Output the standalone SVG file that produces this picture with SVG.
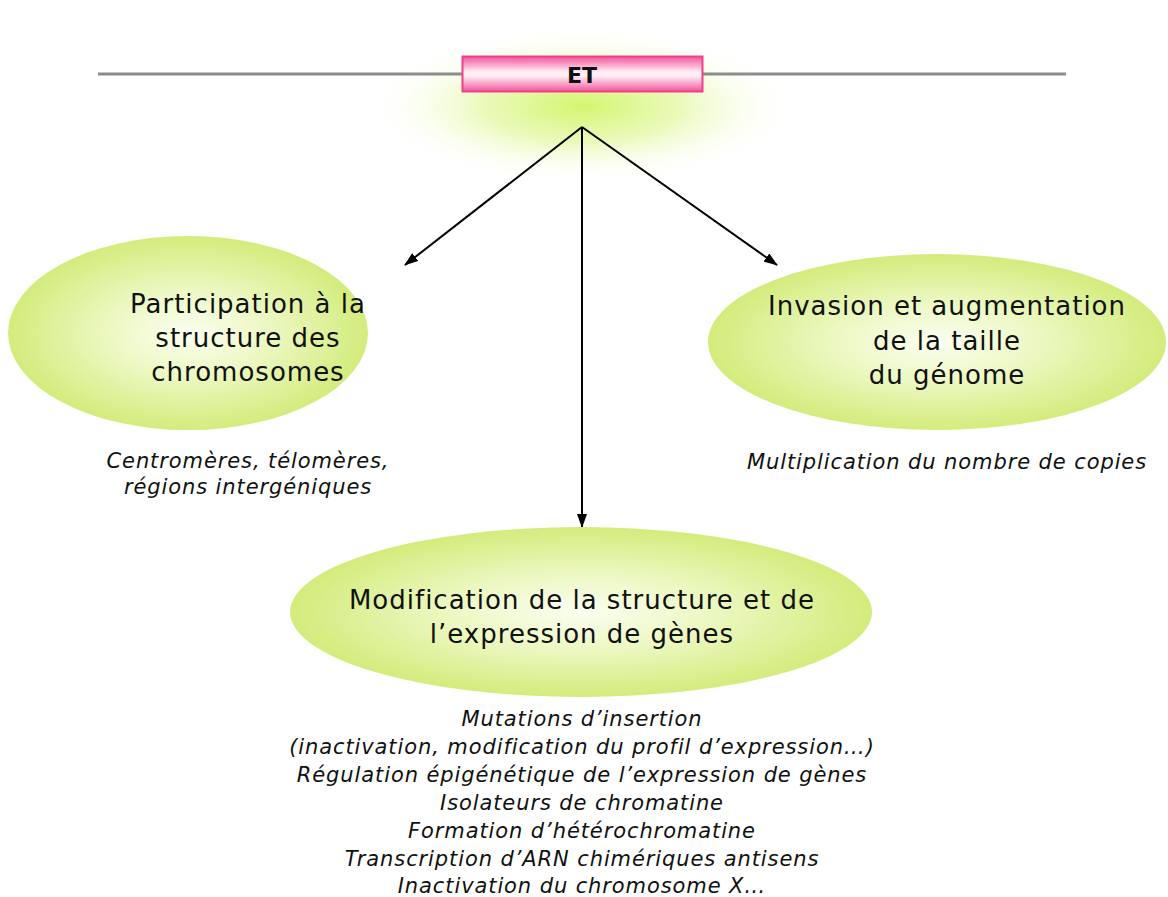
<svg xmlns="http://www.w3.org/2000/svg" width="1168" height="897" viewBox="0 0 1168 897">
  <defs>
    <radialGradient id="glow" cx="0.5" cy="0.5" r="0.5">
      <stop offset="0" stop-color="#d4f56e" stop-opacity="1"/>
      <stop offset="0.45" stop-color="#e2f8a0" stop-opacity="0.75"/>
      <stop offset="1" stop-color="#ffffff" stop-opacity="0"/>
    </radialGradient>
    <linearGradient id="pinkbar" x1="0" y1="0" x2="0" y2="1">
      <stop offset="0" stop-color="#f2559a"/>
      <stop offset="0.45" stop-color="#fff0f6"/>
      <stop offset="0.55" stop-color="#fff0f6"/>
      <stop offset="1" stop-color="#f2559a"/>
    </linearGradient>
    <radialGradient id="oval" cx="0.5" cy="0.5" r="0.5">
      <stop offset="0" stop-color="#fbfef0"/>
      <stop offset="0.45" stop-color="#ecf8c2"/>
      <stop offset="1" stop-color="#d3ec7c"/>
    </radialGradient>
    <marker id="arrow" viewBox="0 0 14 10" refX="13" refY="5" markerWidth="14" markerHeight="10" markerUnits="userSpaceOnUse" orient="auto">
      <path d="M0,0 L14,5 L0,10 z" fill="#000"/>
    </marker>
    <style>
      .title { font-family: "DejaVu Sans", Verdana, sans-serif; font-size: 26px; letter-spacing: 1px; fill: #111; text-anchor: middle; }
      .note { font-family: "DejaVu Sans", Verdana, sans-serif; font-size: 21px; letter-spacing: 0.9px; font-style: italic; fill: #111; text-anchor: middle; }
      .link { stroke: #000; stroke-width: 2; fill: none; marker-end: url(#arrow); }
    </style>
  </defs>

  <rect width="1168" height="897" fill="#ffffff"/>

  <!-- glow beneath the element -->
  <ellipse cx="582" cy="106" rx="215" ry="78" fill="url(#glow)"/>

  <!-- chromosome line and transposable element -->
  <g id="et">
    <line x1="98" y1="74" x2="1066" y2="74" stroke="#8c8c8c" stroke-width="3"/>
    <rect x="462.5" y="56.5" width="240" height="35" fill="url(#pinkbar)" stroke="#f0408a" stroke-width="2"/>
    <text x="582" y="83" font-family="DejaVu Sans, Verdana, sans-serif" font-size="22" font-weight="bold" text-anchor="middle" fill="#111">ET</text>
  </g>

  <!-- connectors -->
  <g id="connectors">
    <line class="link" x1="582" y1="127" x2="405" y2="265"/>
    <line class="link" x1="582" y1="127" x2="777" y2="265"/>
    <line class="link" x1="582" y1="127" x2="582" y2="527"/>
  </g>

  <g id="structure">
    <ellipse cx="188" cy="333" rx="180" ry="97" fill="url(#oval)"/>
    <text class="title" x="248" y="313">Participation à la</text>
    <text class="title" x="248" y="347">structure des</text>
    <text class="title" x="248" y="381">chromosomes</text>
    <text class="note" x="248" y="468">Centromères, télomères,</text>
    <text class="note" x="248" y="494">régions intergéniques</text>
  </g>

  <g id="invasion">
    <ellipse cx="937" cy="342" rx="229" ry="88" fill="url(#oval)"/>
    <text class="title" x="947" y="315">Invasion et augmentation</text>
    <text class="title" x="947" y="350">de la taille</text>
    <text class="title" x="947" y="384">du génome</text>
    <text class="note" x="947" y="469">Multiplication du nombre de copies</text>
  </g>

  <g id="modification">
    <ellipse cx="581" cy="612" rx="291" ry="85" fill="url(#oval)"/>
    <text class="title" x="582" y="609">Modification de la structure et de</text>
    <text class="title" x="582" y="643">l’expression de gènes</text>
    <text class="note" x="582" y="726">Mutations d’insertion</text>
    <text class="note" x="582" y="754">(inactivation, modification du profil d’expression…)</text>
    <text class="note" x="582" y="782">Régulation épigénétique de l’expression de gènes</text>
    <text class="note" x="582" y="810">Isolateurs de chromatine</text>
    <text class="note" x="582" y="838">Formation d’hétérochromatine</text>
    <text class="note" x="582" y="866">Transcription d’ARN chimériques antisens</text>
    <text class="note" x="582" y="893">Inactivation du chromosome X…</text>
  </g>
</svg>
